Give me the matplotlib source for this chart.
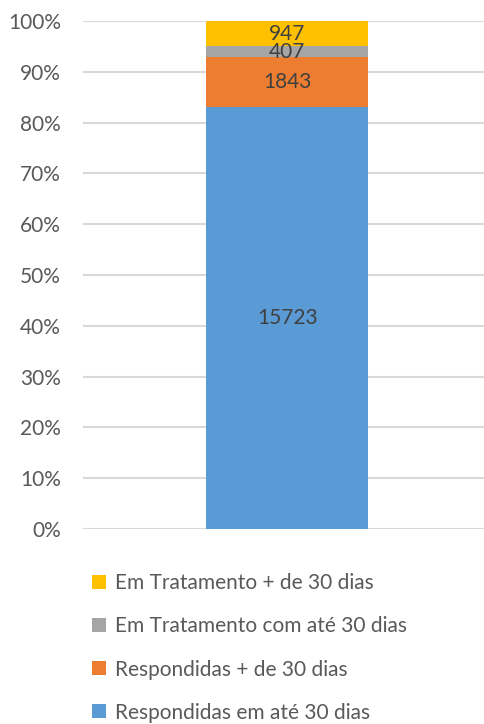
import matplotlib
matplotlib.use("Agg")
import matplotlib.pyplot as plt
from matplotlib.patches import Patch
from matplotlib.ticker import PercentFormatter

plt.rcParams['font.family'] = ['Lato', 'DejaVu Sans']

categories = [""]
series_names = ["Respondidas em até 30 dias", "Respondidas + de 30 dias",
                "Em Tratamento com até 30 dias", "Em Tratamento + de 30 dias"]
series_values = [15723, 1843, 407, 947]
colors = ["#5B9BD5", "#ED7D31", "#A5A5A5", "#FFC000"]
yticks = [0, 10, 20, 30, 40, 50, 60, 70, 80, 90, 100]

total = sum(series_values)
fig = plt.figure(figsize=(4.84, 7.24), dpi=100)
ax = fig.add_axes([83/484, 1 - 529/724, 1 - 83/484, (529 - 21)/724])

FS = 15
bottom = 0.0
for name, v, c in zip(series_names, series_values, colors):
    pct = v / total * 100
    ax.bar(0, pct, bottom=bottom, width=0.404, color=c, zorder=3, label=name)
    ax.text(0, bottom + pct / 2, str(v), ha='center', va='center',
            fontsize=FS, color='#404040', zorder=4)
    bottom += pct

ax.set_ylim(0, 100)
ax.set_xlim(-0.509, 0.491)
ax.set_yticks(yticks)
ax.yaxis.set_major_formatter(PercentFormatter(decimals=0))
ax.tick_params(axis='y', length=0, labelsize=FS, labelcolor='#595959', pad=16)
ax.set_xticks([])
ax.grid(axis='y', color='#D9D9D9', linewidth=1.5, zorder=0)
for s in ax.spines.values():
    s.set_visible(False)

handles = [Patch(facecolor=c, edgecolor='none') for c in colors][::-1]
labels = series_names[::-1]
leg = fig.legend(handles, labels, loc='upper left', bbox_to_anchor=(84/484, 1 - 565/724),
                 frameon=False, fontsize=FS, labelcolor='#595959',
                 handlelength=0.67, handleheight=0.67, handletextpad=0.4,
                 labelspacing=1.11, borderaxespad=0)

fig.savefig("out.png", dpi=100)
